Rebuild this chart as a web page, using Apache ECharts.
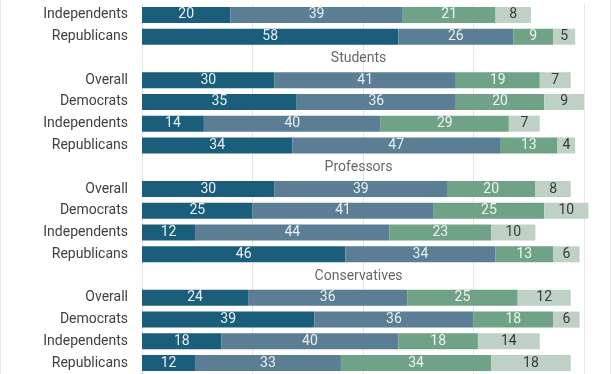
<!DOCTYPE html>
<html>
<head>
<meta charset="utf-8">
<script src="https://cdn.jsdelivr.net/npm/echarts@6/dist/echarts.min.js"></script>
<style>html,body{margin:0;padding:0;background:#fff}#c{width:612px;height:374px}</style>
</head>
<body>
<div id="c"></div>
<script>
var rowLabels = ['Independents','Republicans','','Overall','Democrats','Independents','Republicans','','Overall','Democrats','Independents','Republicans','','Overall','Democrats','Independents','Republicans'];
var groupTitles = ['', '', 'Students', '', '', '', '', 'Professors', '', '', '', '', 'Conservatives', '', '', '', ''];
var s1 = [20,58,null,30,35,14,34,null,30,25,12,46,null,24,39,18,12];
var s2 = [39,26,null,41,36,40,47,null,39,41,44,34,null,36,36,40,33];
var s3 = [21,9,null,19,20,29,13,null,20,25,23,13,null,25,18,18,34];
var s4 = [8,5,null,7,9,7,4,null,8,10,10,6,null,12,6,14,18];
var xTicks = [0,25,50,75,100];

var cats = rowLabels.map(function(l,i){return 'r'+i;});
var colors = ['#1b5e7c','#5b7e94','#6fa286','#bfd1c4'];
var labelColors = ['#e9eff2','#e9eff2','#eef4f0','#3a3a3a'];

function barSeries(data, idx){
  return {
    type:'bar', stack:'a', data:data, barWidth:16, clip:false,
    itemStyle:{color:colors[idx]},
    label:{show:true, position:'inside', color:labelColors[idx], fontFamily:'Roboto', fontSize:14,
      formatter:function(p){return p.value==null?'':p.value;}},
    emphasis:{disabled:true}, silent:true
  };
}

var titleData = [];
groupTitles.forEach(function(t,i){ if(t) titleData.push({value:[49, cats[i]], name:t}); });

var chart = echarts.init(document.getElementById('c'), null, {renderer:'canvas'});
chart.setOption({
  animation:false,
  grid:{left:142, right:28, top:4, height:371, containLabel:false},
  xAxis:{type:'value', min:xTicks[0], max:xTicks[xTicks.length-1], interval:25,
    axisLabel:{show:false}, axisLine:{show:false}, axisTick:{show:false},
    splitLine:{show:true, lineStyle:{color:'#e6e6e6', width:1}}},
  yAxis:{type:'category', inverse:true, data:cats,
    axisLine:{show:false}, axisTick:{show:false},
    axisLabel:{margin:14, color:'#404040', fontFamily:'Roboto', fontSize:14,
      formatter:function(v,i){return rowLabels[i];}}},
  series:[
    barSeries(s1,0), barSeries(s2,1), barSeries(s3,2), barSeries(s4,3),
    {type:'scatter', data:titleData, symbolSize:0, silent:true,
      label:{show:true, position:'inside', color:'#404040', fontFamily:'Roboto', fontSize:14,
        formatter:function(p){return p.name;}}}
  ],
  graphic:[
    {type:'line', shape:{x1:0.5,y1:0,x2:0.5,y2:374}, style:{stroke:'#e8e8e8', lineWidth:1}},
    {type:'line', shape:{x1:610.5,y1:0,x2:610.5,y2:374}, style:{stroke:'#ececec', lineWidth:1}}
  ]
});
</script>
</body>
</html>
